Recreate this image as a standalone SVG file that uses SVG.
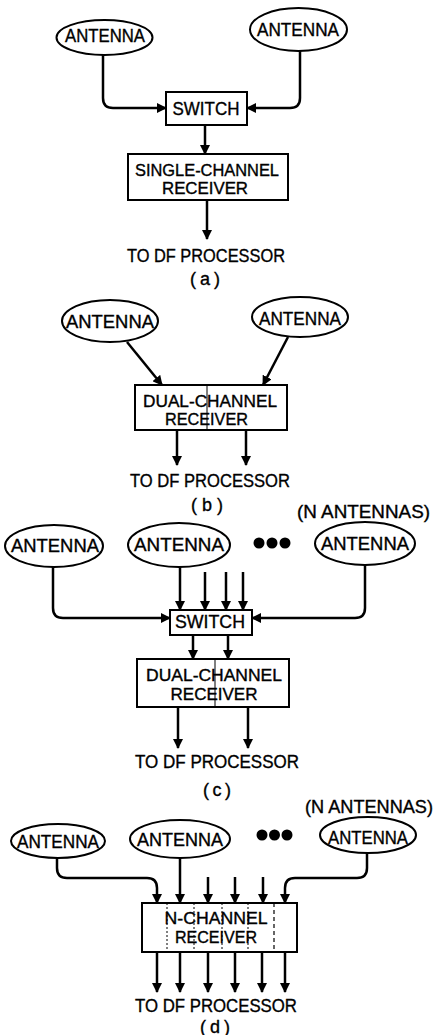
<svg xmlns="http://www.w3.org/2000/svg" width="434" height="1035" viewBox="0 0 434 1035">
<style>
.ant{fill:#fff;stroke:#000;stroke-width:2}
.box{fill:#fff;stroke:#000;stroke-width:2}
.div{stroke:#000;stroke-width:1}
.dot{stroke:#000;stroke-width:1;stroke-dasharray:2,2}
.dash{stroke:#000;stroke-width:1.2;stroke-dasharray:4,3}
.t{font-family:"Liberation Sans",Arial,sans-serif;font-size:18px;fill:#000;stroke:#000;stroke-width:0.35;text-anchor:middle}
.b{font-size:16px}
.c{fill:none;stroke:#000;stroke-width:2.5;marker-end:url(#ah)}
</style>
<defs>
<marker id="ah" viewBox="0 0 10 10" refX="9" refY="5" markerWidth="10" markerHeight="10" markerUnits="userSpaceOnUse" orient="auto"><path d="M0,0 L10,5 L0,10 z" fill="#000"/></marker>
</defs>
<rect width="434" height="1035" fill="#fff"/>

<!-- (a) -->
<g id="a-ant1"><ellipse class="ant" cx="104.5" cy="37.5" rx="48" ry="17.5"/><text class="t" x="105" y="42" textLength="80" lengthAdjust="spacingAndGlyphs">ANTENNA</text></g>
<g id="a-ant2"><ellipse class="ant" cx="298.5" cy="29.5" rx="48.5" ry="21.5"/><text class="t" x="298" y="36" textLength="82" lengthAdjust="spacingAndGlyphs">ANTENNA</text></g>
<g id="a-switch"><rect class="box" x="166" y="92" width="81" height="33"/><text class="t" x="206" y="115" textLength="67" lengthAdjust="spacingAndGlyphs">SWITCH</text></g>
<g id="a-rx"><rect class="box" x="128" y="154" width="160" height="46"/><text class="t b" x="207" y="176" textLength="144" lengthAdjust="spacingAndGlyphs">SINGLE-CHANNEL</text><text class="t b" x="205" y="194" textLength="86" lengthAdjust="spacingAndGlyphs">RECEIVER</text></g>
<g id="a-out"><text class="t" x="206" y="262" textLength="158" lengthAdjust="spacingAndGlyphs">TO DF PROCESSOR</text><text class="t" x="205" y="285" font-size="16" textLength="30" lengthAdjust="spacing">(a)</text></g>

<!-- (b) -->
<g id="b-ant1"><ellipse class="ant" cx="110" cy="321" rx="48" ry="21"/><text class="t" x="110" y="328" textLength="88" lengthAdjust="spacingAndGlyphs">ANTENNA</text></g>
<g id="b-ant2"><ellipse class="ant" cx="300" cy="317" rx="48" ry="20"/><text class="t" x="300" y="325" textLength="82" lengthAdjust="spacingAndGlyphs">ANTENNA</text></g>
<g id="b-rx"><rect class="box" x="135" y="385" width="152" height="45"/><line class="div" x1="207" y1="385" x2="207" y2="430"/><text class="t b" x="210" y="407" textLength="134" lengthAdjust="spacingAndGlyphs">DUAL-CHANNEL</text><text class="t b" x="206.5" y="425" textLength="83" lengthAdjust="spacingAndGlyphs">RECEIVER</text></g>
<g id="b-out"><text class="t" x="210" y="487" textLength="160" lengthAdjust="spacingAndGlyphs">TO DF PROCESSOR</text><text class="t" x="207" y="511" font-size="16" textLength="32" lengthAdjust="spacing">(b)</text></g>

<!-- (c) -->
<g id="c-n"><text class="t" x="363.5" y="518" textLength="133" lengthAdjust="spacingAndGlyphs">(N ANTENNAS)</text></g>
<g id="c-ant1"><ellipse class="ant" cx="54" cy="546" rx="49" ry="21"/><text class="t" x="55" y="552" textLength="88" lengthAdjust="spacingAndGlyphs">ANTENNA</text></g>
<g id="c-ant2"><ellipse class="ant" cx="179" cy="545" rx="51" ry="22"/><text class="t" x="179" y="551" textLength="90" lengthAdjust="spacingAndGlyphs">ANTENNA</text></g>
<g id="c-dots"><circle cx="259" cy="543" r="5.5"/><circle cx="272" cy="543" r="5.5"/><circle cx="285" cy="543" r="5.5"/></g>
<g id="c-ant3"><ellipse class="ant" cx="365" cy="543.5" rx="50" ry="21.5"/><text class="t" x="365" y="550" textLength="88" lengthAdjust="spacingAndGlyphs">ANTENNA</text></g>
<g id="c-switch"><rect class="box" x="170" y="610" width="82" height="25"/><text class="t" x="210" y="628" textLength="70" lengthAdjust="spacingAndGlyphs">SWITCH</text></g>
<g id="c-rx"><rect class="box" x="137" y="659" width="152" height="48"/><line class="div" x1="215" y1="659" x2="215" y2="707"/><text class="t b" x="214" y="681" textLength="136" lengthAdjust="spacingAndGlyphs">DUAL-CHANNEL</text><text class="t b" x="214" y="700" textLength="87" lengthAdjust="spacingAndGlyphs">RECEIVER</text></g>
<g id="c-out"><text class="t" x="217" y="768" textLength="164" lengthAdjust="spacingAndGlyphs">TO DF PROCESSOR</text><text class="t" x="217" y="796" font-size="16" textLength="28" lengthAdjust="spacing">(c)</text></g>

<!-- (d) -->
<g id="d-n"><text class="t" x="369" y="813" textLength="128" lengthAdjust="spacingAndGlyphs">(N ANTENNAS)</text></g>
<g id="d-ant1"><ellipse class="ant" cx="58" cy="841" rx="47" ry="17"/><text class="t" x="58" y="848" textLength="82" lengthAdjust="spacingAndGlyphs">ANTENNA</text></g>
<g id="d-ant2"><ellipse class="ant" cx="180" cy="839" rx="50" ry="19"/><text class="t" x="180" y="846" textLength="86" lengthAdjust="spacingAndGlyphs">ANTENNA</text></g>
<g id="d-dots"><circle cx="262" cy="835" r="5.5"/><circle cx="274.5" cy="835" r="5.5"/><circle cx="287" cy="835" r="5.5"/></g>
<g id="d-ant3"><ellipse class="ant" cx="368" cy="835" rx="48" ry="18"/><text class="t" x="368" y="844" textLength="80" lengthAdjust="spacingAndGlyphs">ANTENNA</text></g>
<g id="d-rx"><rect class="box" x="142" y="903" width="155" height="49"/>
<line class="dot" x1="167" y1="903" x2="167" y2="952"/><line class="dot" x1="194" y1="903" x2="194" y2="952"/><line class="dot" x1="222" y1="903" x2="222" y2="952"/><line class="dot" x1="248" y1="903" x2="248" y2="952"/><line class="dash" x1="274" y1="903" x2="274" y2="952"/>
<text class="t b" x="216" y="924" textLength="103" lengthAdjust="spacingAndGlyphs">N-CHANNEL</text><text class="t b" x="216" y="943" textLength="82" lengthAdjust="spacingAndGlyphs">RECEIVER</text></g>
<g id="d-out"><text class="t" x="216" y="1012" textLength="162" lengthAdjust="spacingAndGlyphs">TO DF PROCESSOR</text><text class="t" x="215" y="1033" font-size="16" textLength="30" lengthAdjust="spacing">(d)</text></g>

<g id="connectors">
<!-- a -->
<path class="c" d="M103,55 V98 Q103,108 113,108 H166"/>
<path class="c" d="M300,51 V98 Q300,108 290,108 H247"/>
<path class="c" d="M205,125 V154"/>
<path class="c" d="M207,200 V239"/>
<!-- b -->
<path class="c" d="M127,342 L162,385"/>
<path class="c" d="M288,337 L263,385"/>
<path class="c" d="M177,430 V465"/>
<path class="c" d="M246,430 V465"/>
<!-- c -->
<path class="c" d="M53,567 V608 Q53,618 63,618 H170"/>
<path class="c" d="M180,567 V610"/>
<path class="c" d="M205,572 V610"/>
<path class="c" d="M226,572 V610"/>
<path class="c" d="M243,572 V610"/>
<path class="c" d="M365,565 V608 Q365,618 355,618 H252"/>
<path class="c" d="M193,635 V659"/>
<path class="c" d="M228,635 V659"/>
<path class="c" d="M178,707 V748"/>
<path class="c" d="M248,707 V748"/>
<!-- d -->
<path class="c" d="M57,858 V868 Q57,878 67,878 H147 Q157,878 157,888 V903"/>
<path class="c" d="M180,858 V903"/>
<path class="c" d="M208,877 V903"/>
<path class="c" d="M235,877 V903"/>
<path class="c" d="M263,877 V903"/>
<path class="c" d="M367,853 V868 Q367,878 357,878 H295 Q285,878 285,888 V903"/>
<path class="c" d="M157,952 V992"/>
<path class="c" d="M180,952 V992"/>
<path class="c" d="M208,952 V992"/>
<path class="c" d="M235,952 V992"/>
<path class="c" d="M262,952 V992"/>
<path class="c" d="M285,952 V992"/>
</g>
</svg>
